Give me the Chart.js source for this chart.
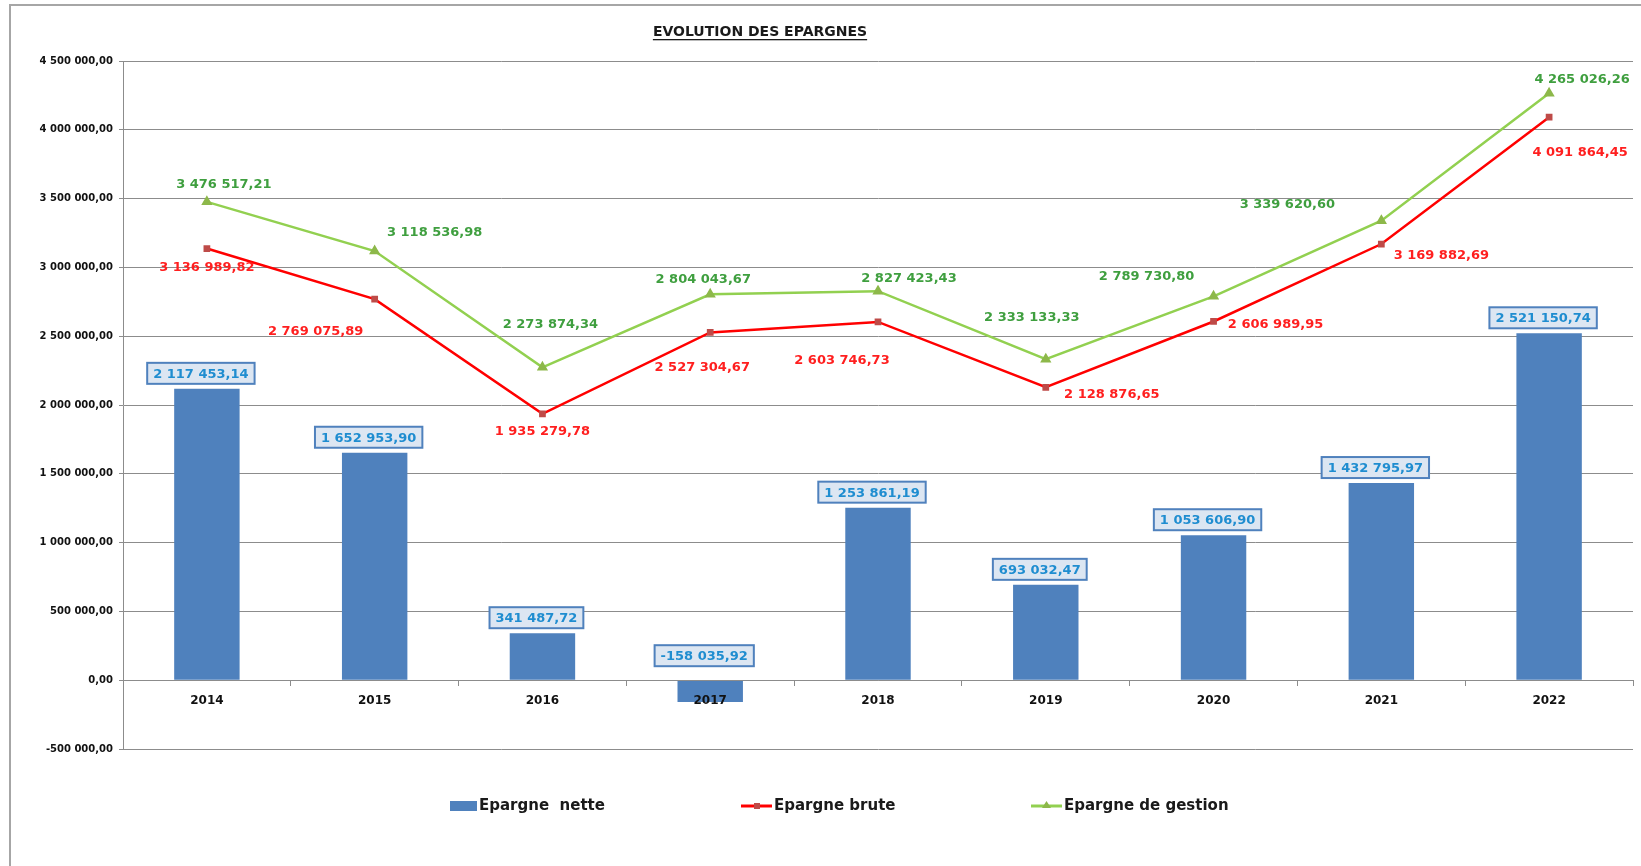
<!DOCTYPE html>
<html><head><meta charset="utf-8">
<script src="https://cdn.jsdelivr.net/npm/chart.js@4.4.0/dist/chart.umd.min.js"></script>
<style>html,body{margin:0;padding:0;background:#fff;overflow:hidden}#wrap{width:1641px;height:866px;position:relative}</style>
</head><body><div id="wrap"><canvas id="c" width="1641" height="866"></canvas></div>
<script>
const years = ['2014','2015','2016','2017','2018','2019','2020','2021','2022'];
const epargneNette = [2117453.14, 1652953.90, 341487.72, -158035.92, 1253861.19, 693032.47, 1053606.90, 1432795.97, 2521150.74];
const epargneBrute = [3136989.82, 2769075.89, 1935279.78, 2527304.67, 2603746.73, 2128876.65, 2606989.95, 3169882.69, 4091864.45];
const epargneGestion = [3476517.21, 3118536.98, 2273874.34, 2804043.67, 2827423.43, 2333133.33, 2789730.80, 3339620.60, 4265026.26];
const yMin = -500000, yMax = 4500000, yStep = 500000;
const seriesNames = ['Epargne  nette', 'Epargne brute', 'Epargne de gestion'];
const chartTitle = 'EVOLUTION DES EPARGNES';

function fr(v){
  const neg = v < 0;
  let [i, d] = Math.abs(v).toFixed(2).split('.');
  i = i.replace(/\B(?=(\d{3})+(?!\d))/g, ' ');
  return (neg ? '-' : '') + i + ',' + d;
}

const FONT = '"DejaVu Sans", sans-serif';
const GRID = '#8c8c8c';

// label offsets (layout only)
const greenOff = [[17,-17],[60,-18],[8,-43],[-7,-15],[31,-13],[-14,-42],[-67,-20],[-94,-16],[33,-14]];
const redOff = [[0,19],[-59,32],[0,18],[-8,35],[-36,39],[66,7],[62,3],[60,12],[31,35]];

const framePlugin = {
  id: 'frame',
  beforeDraw(chart){
    const ctx = chart.ctx;
    ctx.save();
    ctx.fillStyle = '#fff';
    ctx.fillRect(0,0,chart.width,chart.height);
    ctx.strokeStyle = '#a6a6a6';
    ctx.lineWidth = 2;
    ctx.beginPath();
    ctx.moveTo(10, chart.height);
    ctx.lineTo(10, 5);
    ctx.lineTo(chart.width, 5);
    ctx.stroke();
    ctx.restore();
  }
};

const labelPlugin = {
  id: 'vlabels',
  afterDatasetsDraw(chart){
    const ctx = chart.ctx;
    ctx.save();
    ctx.font = 'bold 13px ' + FONT;
    ctx.textAlign = 'center';
    ctx.textBaseline = 'middle';
    const y0 = chart.scales.y.getPixelForValue(0);
    chart.getDatasetMeta(0).data.forEach((el, i) => {
      const v = epargneNette[i];
      const t = fr(v);
      const tw = ctx.measureText(t).width;
      const w = tw + 12, h = 21;
      const cx = el.x - 6;
      const bottom = v >= 0 ? el.y - 5 : y0 - 14;
      ctx.fillStyle = '#dce6f2';
      ctx.fillRect(cx - w/2, bottom - h, w, h);
      ctx.strokeStyle = '#4f81bd';
      ctx.lineWidth = 2;
      ctx.strokeRect(cx - w/2, bottom - h, w, h);
      ctx.fillStyle = '#1f8dd0';
      ctx.fillText(t, cx, bottom - h/2 + 1);
    });
    chart.getDatasetMeta(1).data.forEach((el, i) => {
      ctx.fillStyle = '#ff1f1f';
      ctx.fillText(fr(epargneBrute[i]), el.x + redOff[i][0], el.y + redOff[i][1]);
    });
    chart.getDatasetMeta(2).data.forEach((el, i) => {
      ctx.fillStyle = '#3f9f3f';
      ctx.fillText(fr(epargneGestion[i]), el.x + greenOff[i][0], el.y + greenOff[i][1]);
    });
    ctx.restore();
  },
  afterDraw(chart){
    const ctx = chart.ctx;
    ctx.save();
    ctx.font = 'bold 14px ' + FONT;
    ctx.fillStyle = '#1a1a1a';
    ctx.textAlign = 'center';
    ctx.textBaseline = 'middle';
    const tx = 760, ty = 32;
    ctx.fillText(chartTitle, tx, ty);
    const tw = ctx.measureText(chartTitle).width;
    ctx.fillRect(tx - tw/2, ty + 7, tw, 1.3);
    const ly = 806;
    ctx.font = 'bold 15px ' + FONT;
    ctx.textAlign = 'left';
    ctx.fillStyle = '#4f81bd';
    ctx.fillRect(450, ly - 5, 27, 10);
    ctx.fillStyle = '#1a1a1a';
    ctx.fillText(seriesNames[0], 479, ly);
    ctx.strokeStyle = '#ff0000'; ctx.lineWidth = 3;
    ctx.beginPath(); ctx.moveTo(741, ly); ctx.lineTo(772, ly); ctx.stroke();
    ctx.fillStyle = '#be4b48'; ctx.fillRect(754, ly - 3, 6, 6);
    ctx.fillStyle = '#1a1a1a';
    ctx.fillText(seriesNames[1], 774, ly);
    ctx.strokeStyle = '#92d050'; ctx.lineWidth = 3;
    ctx.beginPath(); ctx.moveTo(1031, ly); ctx.lineTo(1062, ly); ctx.stroke();
    ctx.fillStyle = '#8db84a';
    ctx.beginPath(); ctx.moveTo(1046.5, ly - 5); ctx.lineTo(1051, ly + 2); ctx.lineTo(1042, ly + 2); ctx.closePath(); ctx.fill();
    ctx.fillStyle = '#1a1a1a';
    ctx.fillText(seriesNames[2], 1064, ly);
    ctx.restore();
  }
};

new Chart(document.getElementById('c'), {
  data: {
    labels: years,
    datasets: [
      { type: 'bar', label: seriesNames[0], data: epargneNette, backgroundColor: '#4f81bd',
        barPercentage: 0.39, categoryPercentage: 1, order: 3 },
      { type: 'line', label: seriesNames[1], data: epargneBrute, borderColor: '#ff0000', borderWidth: 2.5,
        pointStyle: 'rect', pointRadius: 3, pointBackgroundColor: '#be4b48', pointBorderColor: '#be4b48',
        tension: 0, fill: false, order: 2 },
      { type: 'line', label: seriesNames[2], data: epargneGestion, borderColor: '#92d050', borderWidth: 2.5,
        pointStyle: 'triangle', pointRadius: 4, pointBackgroundColor: '#8db84a', pointBorderColor: '#8db84a',
        tension: 0, fill: false, order: 1 }
    ]
  },
  options: {
    responsive: false,
    animation: false,
    devicePixelRatio: 1,
    layout: { padding: { left: 0, right: 8, top: 61, bottom: 117 } },
    plugins: { legend: { display: false }, title: { display: false }, tooltip: { enabled: false } },
    scales: {
      x: {
        position: { y: 0 },
        offset: true,
        grid: { display: true, drawOnChartArea: false, drawTicks: true, tickLength: 5, color: GRID, offset: true, z: 1 },
        border: { display: true, color: GRID, width: 1, z: 1 },
        ticks: { z: 2, color: '#111', font: { family: FONT, size: 12, weight: 'bold' }, padding: 8, maxRotation: 0 }
      },
      y: {
        min: yMin, max: yMax,
        afterFit(s){ s.width = 123; },
        grid: { color: GRID, lineWidth: 1, drawTicks: true, tickLength: 4 },
        border: { display: true, color: GRID, width: 1 },
        ticks: { stepSize: yStep, color: '#111', font: { family: FONT, size: 10, weight: 'bold' }, padding: 6,
          callback: v => fr(v) }
      }
    }
  },
  plugins: [framePlugin, labelPlugin]
});
</script>
</body></html>
